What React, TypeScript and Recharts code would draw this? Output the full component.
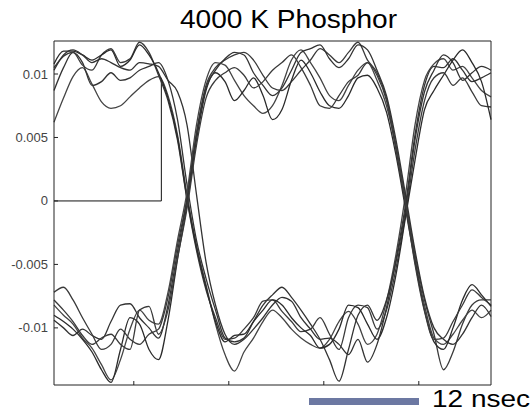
import { LineChart, Line, XAxis, YAxis } from 'recharts';

// sample times (arbitrary units, 1 unit = 1 tick step / 10)
const sampleTimes = [
  1.6, 2.6, 3.6, 4.6, 5.6, 6.6, 7.6, 8.6, 9.6, 10.6, 11.6, 12.6, 13.6, 14.6, 15.6, 16.6,
  17.6, 18.6, 19.6, 20.6, 21.6, 22.6, 23.6, 24.6, 25.6, 26.6, 27.6, 28.6, 29.6, 30.6, 31.6,
  32.6, 33.6, 34.6, 35.6, 36.6, 37.6, 38.6, 39.6, 40.6, 41.6, 42.6, 43.6, 44.6, 45.6, 46.6, 47.6,
];

// signal values in units of 1e-4 (0.01 = 100)
const traceA1 = [62, 81, 98, 105, 92, 78, 73, 75, 82, 89, 95, 98, 83, 52, 5, -35, -66, -97, -121, -134, -119, -108, -95, -86, -92, -101, -108, -113, -116, -109, -95, -87, -97, -113, -105, -79, -42, 5, 60, 95, 108, 112, 103, 106, 97, 87, 82];
const traceA2 = [87, 105, 117, 109, 91, 94, 101, 95, 97, 103, 106, 109, 95, 64, 13, -31, -61, -86, -108, -111, -108, -95, -82, -74, -68, -76, -86, -97, -109, -125, -142, -117, -90, -82, -94, -78, -48, -7, 48, 86, 103, 115, 109, 95, 101, 106, 103];
const traceA3 = [105, 114, 117, 107, 103, 115, 120, 109, 112, 125, 117, 99, 79, 48, 1, -39, -70, -92, -109, -108, -101, -92, -79, -78, -87, -95, -103, -101, -92, -105, -117, -92, -82, -84, -101, -86, -53, -11, 40, 79, 97, 101, 91, 97, 86, 75, 74];
const traceA4 = [108, 118, 118, 115, 111, 115, 119, 106, 111, 123, 115, 101, 81, 50, 2, -37, -68, -95, -111, -106, -105, -95, -86, -78, -82, -92, -100, -106, -116, -113, -101, -82, -84, -97, -109, -92, -58, -13, 32, 72, 87, 99, 111, 119, 109, 94, 64];
const traceA5 = [103, 115, 119, 115, 109, 112, 109, 105, 103, 109, 108, 106, 95, 86, 60, 5, -48, -82, -105, -113, -109, -101, -92, -82, -76, -79, -92, -101, -109, -108, -113, -121, -109, -127, -113, -84, -46, -3, 52, 91, 106, 105, 112, 103, 94, 97, 101];
const traceB1 = [-72, -68, -78, -92, -105, -117, -113, -101, -109, -113, -105, -101, -76, -35, 2, 54, 91, 105, 111, 115, 117, 111, 99, 89, 87, 94, 103, 111, 120, 115, 109, 117, 125, 111, 101, 81, 44, 1, -42, -78, -105, -133, -119, -97, -82, -78, -78];
const traceB2 = [-82, -90, -97, -108, -116, -129, -141, -125, -101, -86, -94, -97, -72, -31, 7, 60, 95, 109, 107, 95, 83, 75, 69, 75, 91, 111, 119, 109, 97, 83, 79, 91, 103, 109, 95, 75, 42, -1, -45, -82, -108, -113, -105, -94, -86, -92, -86];
const traceB3 = [-90, -95, -101, -109, -119, -133, -143, -117, -92, -97, -117, -125, -94, -46, -3, 48, 87, 101, 94, 79, 87, 97, 83, 64, 72, 95, 111, 101, 86, 75, 73, 83, 97, 99, 89, 70, 36, -6, -48, -86, -111, -117, -100, -78, -66, -74, -83];
const traceB4 = [-94, -100, -106, -101, -106, -109, -95, -82, -81, -92, -100, -108, -82, -40, 1, 52, 89, 103, 112, 117, 115, 101, 91, 83, 89, 103, 117, 120, 123, 112, 105, 112, 123, 119, 103, 83, 48, 5, -39, -76, -100, -109, -113, -105, -92, -82, -91];
const traceB5 = [-78, -86, -95, -106, -113, -108, -105, -113, -117, -86, -83, -105, -86, -45, -6, 44, 81, 95, 101, 105, 99, 89, 94, 103, 109, 115, 105, 91, 75, 73, 83, 94, 99, 109, 99, 79, 40, -3, -50, -87, -109, -108, -95, -82, -70, -76, -82];

// input step drawn at the left
const pulseTimes = [1.6, 12.9, 12.9];
const pulseValues = [0, 0, 97];

const yTicks = [-100, -50, 0, 50, 100];
const yTickLabels = ['-0.01', '-0.005', '0', '0.005', '0.01'];
const xTicks = [10, 20, 30, 40];

const FONT = '"Liberation Sans", Arial, sans-serif';
const AXIS = '#222';

const traces = [traceA1, traceA2, traceA3, traceA4, traceA5, traceB1, traceB2, traceB3, traceB4, traceB5];
const traceColors = ['#444', '#333', '#3a3a3a', '#2a2a2a', '#333', '#3a3a3a', '#444', '#2a2a2a', '#333', '#3a3a3a'];

const LeftTick = (props: any) => {
  const { x, y, payload } = props;
  const label = yTickLabels[yTicks.indexOf(payload.value)];
  return (
    <g>
      <line x1={x} y1={y} x2={x + 4} y2={y} stroke={AXIS} />
      <text x={x - 6} y={y} dy="0.35em" textAnchor="end" fontSize={13} fill="#444" fontFamily={FONT}>
        {label}
      </text>
    </g>
  );
};

const RightTick = (props: any) => {
  const { x, y } = props;
  return <line x1={x} y1={y} x2={x - 4} y2={y} stroke={AXIS} />;
};

const BottomTick = (props: any) => {
  const { x, y } = props;
  return <line x1={x} y1={y} x2={x} y2={y - 4} stroke={AXIS} />;
};

const TopTick = (props: any) => {
  const { x, y } = props;
  return <line x1={x} y1={y} x2={x} y2={y + 4} stroke={AXIS} />;
};

export default function App() {
  const series = traces.map((t) => sampleTimes.map((x, i) => ({ x, v: t[i] })));
  const pulse = pulseTimes.map((x, i) => ({ x, v: pulseValues[i] }));

  return (
    <div style={{ position: 'absolute', left: 0, top: 0, width: 532, height: 414, background: '#fff' }}>
      <LineChart width={532} height={414} margin={{ top: 40, right: 40, bottom: 28, left: 0 }}>
        <XAxis
          xAxisId="b"
          type="number"
          dataKey="x"
          domain={[1.6, 47.6]}
          ticks={xTicks}
          height={1}
          tickSize={0}
          tickMargin={0}
          tick={<BottomTick />}
          tickLine={false}
          axisLine={{ stroke: AXIS }}
        />
        <XAxis
          xAxisId="t"
          orientation="top"
          type="number"
          dataKey="x"
          domain={[1.6, 47.6]}
          ticks={xTicks}
          height={1}
          tickSize={0}
          tickMargin={0}
          tick={<TopTick />}
          tickLine={false}
          axisLine={{ stroke: AXIS }}
        />
        <YAxis
          yAxisId="l"
          type="number"
          domain={[-145, 126]}
          ticks={yTicks}
          width={54}
          tickSize={0}
          tickMargin={0}
          tick={<LeftTick />}
          tickLine={false}
          axisLine={{ stroke: AXIS }}
        />
        <YAxis
          yAxisId="r"
          orientation="right"
          type="number"
          domain={[-145, 126]}
          ticks={yTicks}
          width={1}
          tickSize={0}
          tickMargin={0}
          tick={<RightTick />}
          tickLine={false}
          axisLine={{ stroke: AXIS }}
        />
        <Line
          xAxisId="b"
          yAxisId="l"
          data={pulse}
          dataKey="v"
          type="linear"
          stroke="#111"
          strokeWidth={1}
          dot={false}
          isAnimationActive={false}
        />
        {series.map((d, i) => (
          <Line
            key={i}
            xAxisId="b"
            yAxisId="l"
            data={d}
            dataKey="v"
            type="monotone"
            stroke={traceColors[i]}
            strokeWidth={1.3}
            dot={false}
            isAnimationActive={false}
          />
        ))}
      </LineChart>
      <svg
        width={532}
        height={414}
        style={{ position: 'absolute', left: 0, top: 0, pointerEvents: 'none' }}
      >
        <text x={180} y={28} fontSize={26} textLength={217} lengthAdjust="spacingAndGlyphs" fill="#000" fontFamily={FONT}>
          4000 K Phosphor
        </text>
        <rect x={309} y={398} width={110} height={7} fill="#6c78a2" />
        <text x={432} y={407} fontSize={24} textLength={98} lengthAdjust="spacingAndGlyphs" fill="#000" fontFamily={FONT}>
          12 nsec
        </text>
      </svg>
    </div>
  );
}
